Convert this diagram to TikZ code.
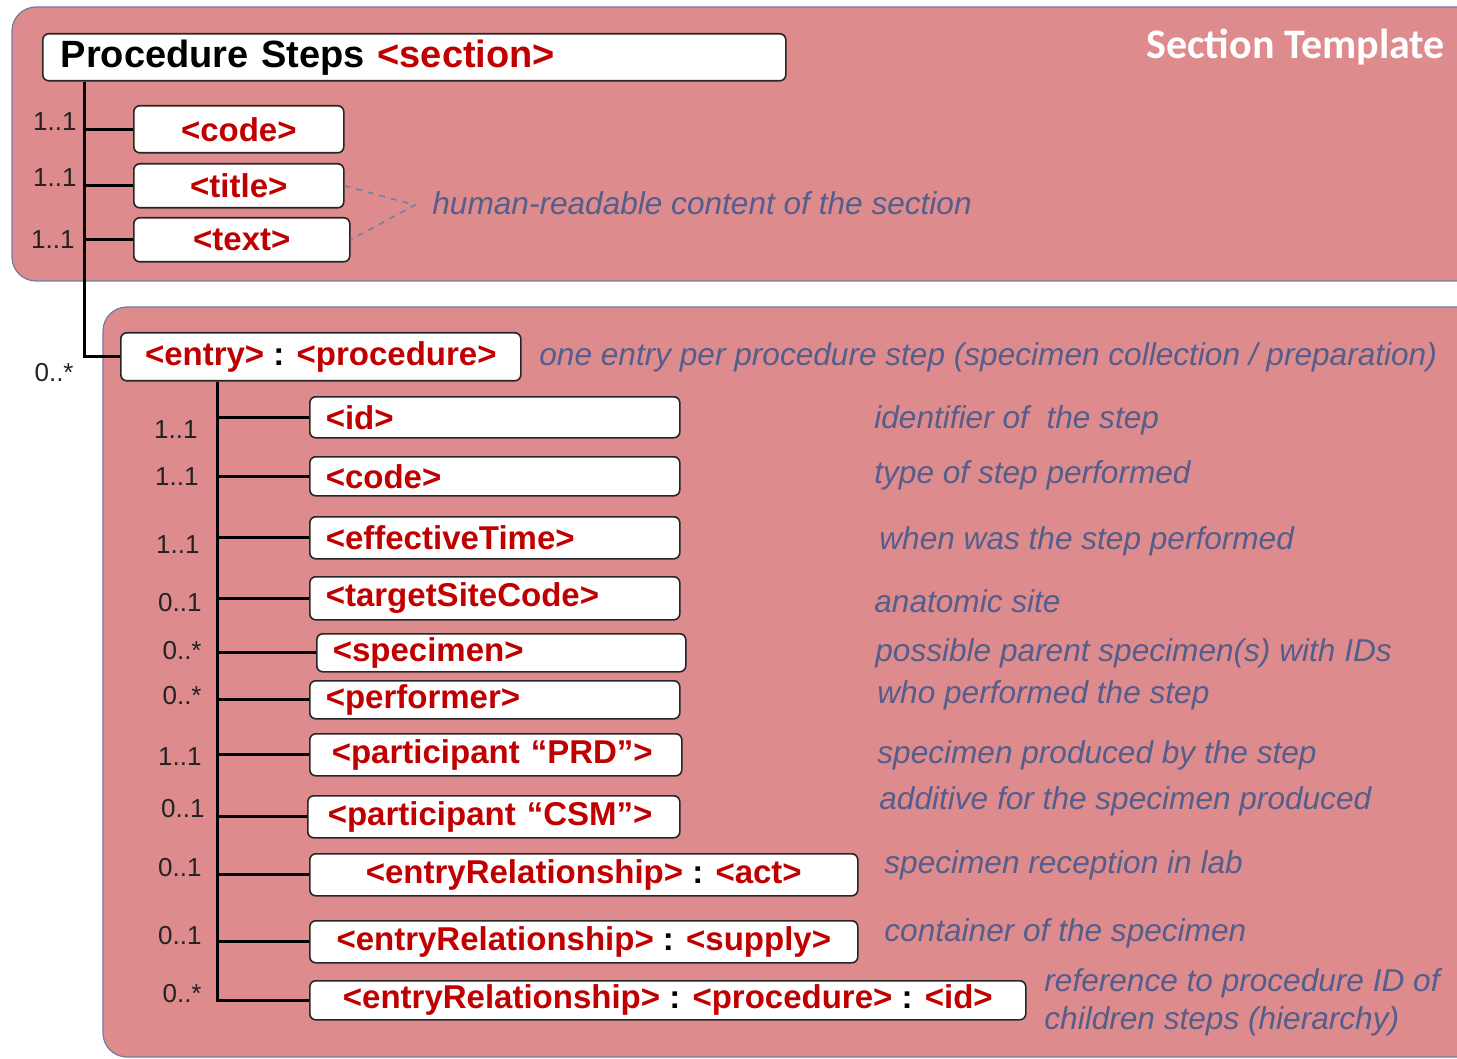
\documentclass[tikz,border=0pt]{standalone}
\usepackage{fontspec}
\setmainfont{Liberation Sans}
\newfontfamily\calibri{Carlito}
\usepackage{xcolor}
\usetikzlibrary{positioning}

\definecolor{panelpink}{RGB}{222,139,142}
\definecolor{panelrim}{RGB}{112,124,160}
\definecolor{tagred}{RGB}{192,0,0}
\definecolor{noteblue}{RGB}{84,94,140}
\definecolor{multgray}{RGB}{35,35,35}

\begin{document}
\begin{tikzpicture}[x=0.5pt, y=-0.5pt,
  panel/.style = {draw=panelrim, line width=0.6pt, fill=panelpink, rounded corners=12pt},
  elem/.style  = {draw=black!85, line width=0.8pt, fill=white, rounded corners=3pt,
                  font=\fontsize{16.5}{18}\selectfont\bfseries, text=tagred,
                  inner sep=0pt, anchor=north west},
  lft/.style   = {align=left, inner xsep=8pt},
  tree/.style  = {line width=1.5pt, black},
  mult/.style  = {font=\fontsize{13}{14}\selectfont, text=multgray, anchor=east, inner sep=1pt},
  note/.style  = {font=\fontsize{15.8}{19}\selectfont\itshape, text=noteblue, anchor=west, inner sep=1pt},
  hint/.style  = {dashed, line width=0.8pt, noteblue!80}
]
\clip (0,0) rectangle (1457,1059);
\useasboundingbox (0,0) rectangle (1457,1059);

%% ---- section band -------------------------------------------------
\draw[panel] (12,7) rectangle (1500,281);
\node[font=\calibri\fontsize{21}{24}\selectfont\bfseries, text=white, anchor=east]
  (tmpl) at (1452,47) {Section Template};

\node[elem, lft, inner xsep=9pt, text width=353.5pt, minimum height=23.5pt, text=black,
  font=\fontsize{19}{21}\selectfont\bfseries] (ps) at (42,33)
  {Procedure Steps \textcolor{tagred}{<section>}};

\node[elem, minimum width=105pt, minimum height=23.5pt] (scode)  at (133,105) {<code>};
\node[elem, minimum width=105pt, minimum height=22pt]   (stitle) at (133,163) {<title>};
\node[elem, minimum width=108pt, minimum height=22pt]   (stext)  at (133,217) {<text>};

\node[mult] (ms1) at (79,122) {1..1};
\node[mult] (ms2) at (79,178) {1..1};
\node[mult] (ms3) at (77,240) {1..1};

\node[note] (hr) at (430,203) {human-readable content of the section};
\coordinate (meet) at (415,205);
\draw[hint] (stitle.east) -- (meet) -- (stext.east);

%% ---- entry band ---------------------------------------------------
\draw[panel] (103,307) rectangle (1500,1057);

\node[elem, minimum width=200pt, minimum height=24pt] (entry) at (120,332)
  {<entry> \textcolor{black}{:} <procedure>};
\node[mult] (me) at (76,373) {0..*};
\node[note] (ne) at (537,357)
  {one entry per procedure step (specimen collection / preparation)};

\coordinate (spine) at (84,0);
\draw[tree] (spine |- ps.south) |- (entry.west);
\foreach \b in {scode,stitle,stext}
  \draw[tree] (spine |- \b.west) -- (\b.west);

\node[elem, lft, text width=169pt, minimum height=20.5pt] (id)    at (309,396) {<id>};
\node[elem, lft, text width=169pt, minimum height=19.5pt] (code)  at (309,456) {<code>};
\node[elem, lft, text width=169pt, minimum height=21pt]   (etime) at (309,516) {<effectiveTime>};
\node[elem, lft, text width=169pt, minimum height=21.5pt] (site)  at (309,576) {<targetSiteCode>};
\node[elem, lft, text width=168.5pt, minimum height=19pt] (spec)  at (316,633) {<specimen>};
\node[elem, lft, text width=169pt, minimum height=19pt]   (perf)  at (309,680) {<performer>};
\node[elem, lft, inner xsep=11pt, text width=164pt, minimum height=21pt] (prd) at (309,733)
  {<participant “PRD”>};
\node[elem, lft, inner xsep=10pt, text width=166pt, minimum height=21pt] (csm) at (307,795)
  {<participant “CSM”>};
\node[elem, minimum width=274pt, minimum height=21pt]   (eract)  at (309,853)
  {<entryRelationship> \textcolor{black}{:} <act>};
\node[elem, minimum width=274pt, minimum height=21pt]   (ersup)  at (309,920)
  {<entryRelationship> \textcolor{black}{:} <supply>};
\node[elem, minimum width=358pt, minimum height=19.5pt] (erproc) at (309,980)
  {<entryRelationship> \textcolor{black}{:} <procedure> \textcolor{black}{:} <id>};

\coordinate (stem) at (217,0);
\draw[tree] (stem |- entry.south) |- (erproc.west);
\foreach \b in {id,code,etime,site,spec,perf,prd,csm,eract,ersup}
  \draw[tree] (stem |- \b.west) -- (\b.west);

\node[mult] (m1)  at (200,430) {1..1};
\node[mult] (m2)  at (201,477) {1..1};
\node[mult] (m3)  at (202,545) {1..1};
\node[mult] (m4)  at (204,603) {0..1};
\node[mult] (m5)  at (204,651) {0..*};
\node[mult] (m6)  at (204,696) {0..*};
\node[mult] (m7)  at (204,757) {1..1};
\node[mult] (m8)  at (207,809) {0..1};
\node[mult] (m9)  at (204,868) {0..1};
\node[mult] (m10) at (204,936) {0..1};
\node[mult] (m11) at (204,994) {0..*};

\node[note] (n1)  at (872,420) {identifier of\ \ the step};
\node[note] (n2)  at (872,475) {type of step performed};
\node[note] (n3)  at (877,541) {when was the step performed};
\node[note] (n4)  at (872,601) {anatomic site};
\node[note] (n5)  at (873,653) {possible parent specimen(s) with IDs};
\node[note] (n6)  at (875,695) {who performed the step};
\node[note] (n7)  at (875,755) {specimen produced by the step};
\node[note] (n8)  at (877,801) {additive for the specimen produced};
\node[note] (n9)  at (882,865) {specimen reception in lab};
\node[note] (n10) at (882,933) {container of the specimen};
\node[note, align=left] (n11) at (1042,1002)
  {reference to procedure ID of\\children steps (hierarchy)};
\end{tikzpicture}
\end{document}
